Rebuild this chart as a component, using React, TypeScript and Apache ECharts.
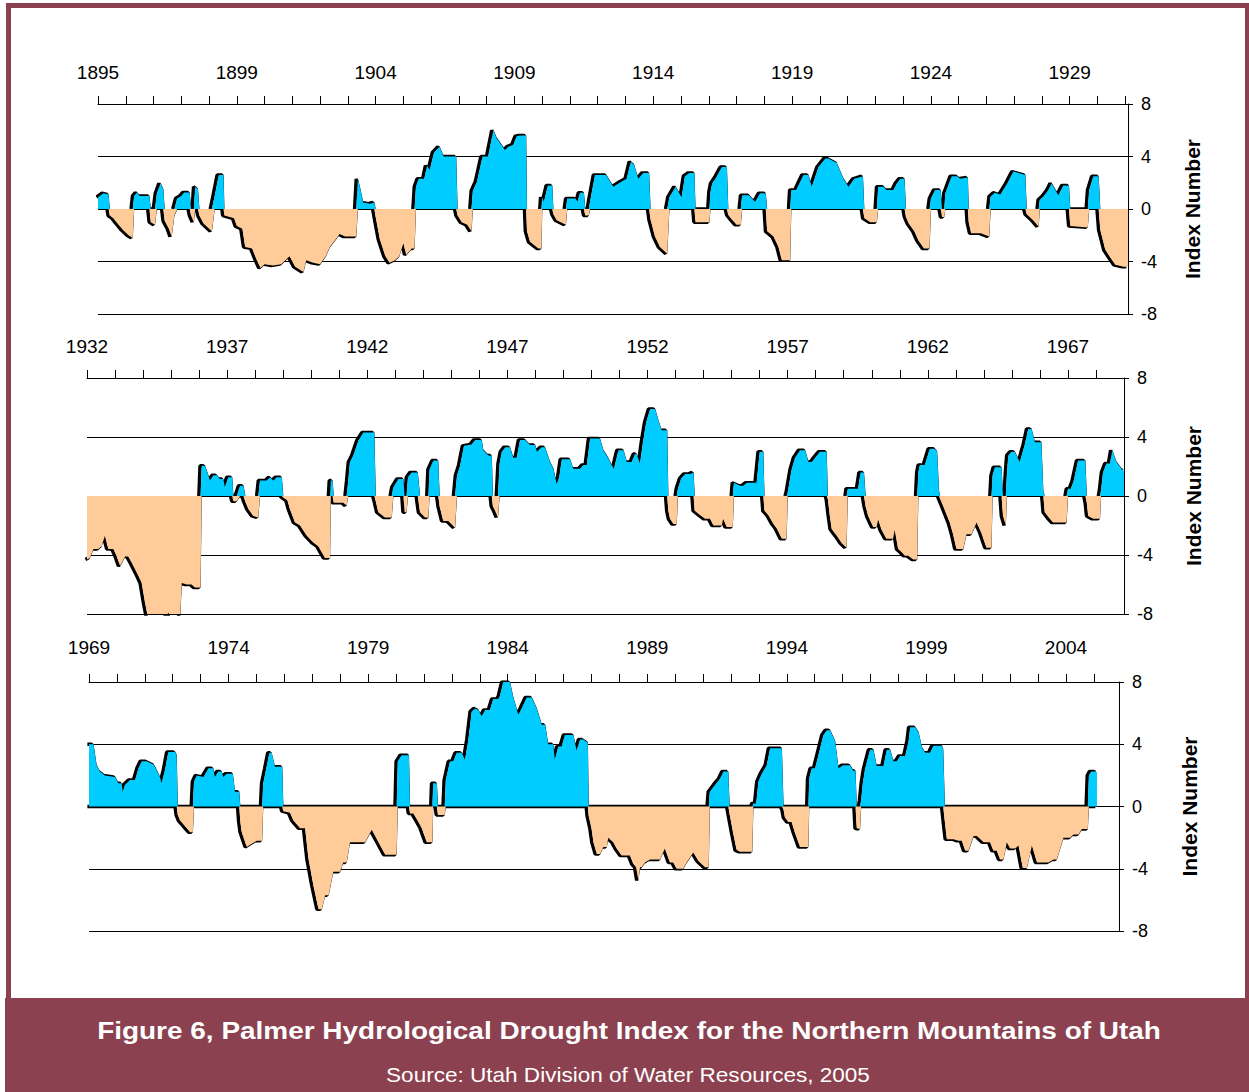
import React, { useEffect, useRef } from "react";
import * as echarts from "echarts";

// Tick labels of each panel's top axis (one label every 5 ticks, 1 tick per year)
const labels1895 = ["1895", "1899", "1904", "1909", "1914", "1919", "1924", "1929"];
const labels1932 = ["1932", "1937", "1942", "1947", "1952", "1957", "1962", "1967"];
const labels1969 = ["1969", "1974", "1979", "1984", "1989", "1994", "1999", "2004"];

// Palmer Hydrological Drought Index: [years after panel start, index]
const phdi1895: [number, number][] = [
  [0, 0.9], [0.2, 1.2], [0.38, 1.1], [0.42, -0.5], [0.55, -0.7], [0.7, -1.1], [0.9, -1.6], [1.1, -2.0], [1.25, -2.2],
  [1.3, 1.0], [1.4, 1.25], [1.5, 1.0], [1.85, 1.0], [1.9, -1.0], [2.05, -1.2], [2.12, 1.2], [2.25, 1.95], [2.35, 1.5],
  [2.4, -0.9], [2.55, -1.5], [2.65, -2.1], [2.75, -0.5], [2.85, 0.8], [3.0, 1.0], [3.1, 1.25], [3.3, 1.25], [3.35, -0.5],
  [3.45, -1.0], [3.5, 1.7], [3.6, 1.5], [3.65, -0.5], [3.8, -1.1], [4.1, -1.7], [4.2, 1.0], [4.35, 2.6], [4.52, 2.6],
  [4.55, -0.5], [4.9, -0.7], [5.0, -1.3], [5.2, -1.5], [5.3, -2.9], [5.55, -3.0], [5.7, -3.8], [5.85, -4.5], [6.0, -4.2],
  [6.3, -4.3], [6.6, -4.2], [6.9, -3.6], [7.1, -4.4], [7.4, -4.8], [7.5, -3.9], [7.75, -4.1], [8.0, -4.2], [8.2, -3.6],
  [8.35, -2.9], [8.6, -2.2], [8.7, -1.9], [8.9, -2.1], [9.3, -2.1], [9.36, 2.3], [9.45, 1.5], [9.55, 0.5], [9.8, 0.4],
  [9.95, 0.5], [10.0, -0.6], [10.15, -2.3], [10.35, -3.6], [10.5, -4.1], [10.7, -3.9], [10.85, -3.6], [11.0, -2.6],
  [11.1, -3.5], [11.3, -3.0], [11.4, -3.0], [11.45, 1.7], [11.55, 2.3], [11.75, 2.3], [11.85, 3.3], [11.95, 3.0],
  [12.1, 4.3], [12.3, 4.75], [12.45, 4.0], [12.9, 4.0], [12.95, -0.5], [13.1, -1.0], [13.3, -1.2], [13.45, -1.7],
  [13.5, 1.4], [13.65, 2.1], [13.85, 4.0], [14.05, 4.0], [14.24, 6.0], [14.36, 5.4], [14.66, 4.5], [14.78, 4.75],
  [14.96, 4.9], [15.08, 5.55], [15.2, 5.6], [15.42, 5.6], [15.45, -1.7], [15.56, -2.5], [15.86, -3.0], [15.97, -3.0],
  [16.0, 0.9], [16.06, 0.55], [16.2, 1.8], [16.36, 1.8], [16.4, -0.4], [16.52, -0.85], [16.85, -1.2], [16.9, 0.8],
  [17.2, 0.8], [17.27, 0.55], [17.36, 1.24], [17.5, 1.24], [17.55, -0.5], [17.68, -0.5], [17.72, 0.55], [17.9, 2.6],
  [18.3, 2.6], [18.56, 1.7], [18.86, 2.1], [19.04, 2.3], [19.19, 3.6], [19.31, 3.35], [19.46, 2.3], [19.64, 2.75],
  [19.85, 2.75], [19.9, -0.8], [20.06, -2.1], [20.24, -2.9], [20.5, -3.4], [20.58, 0.9], [20.8, 1.7], [21.02, 0.9],
  [21.14, 2.5], [21.3, 2.75], [21.48, 2.75], [21.52, -1.0], [22.02, -1.0], [22.06, 1.3], [22.12, 1.95], [22.29, 2.5],
  [22.47, 3.2], [22.65, 3.2], [22.7, -0.45], [22.83, -0.8], [23.0, -1.2], [23.15, -1.2], [23.2, 1.05], [23.45, 1.05],
  [23.55, 0.8], [23.67, 0.55], [23.85, 1.2], [24.05, 1.2], [24.1, -1.7], [24.33, -2.1], [24.51, -2.9], [24.63, -3.9],
  [24.93, -3.9], [24.97, 1.45], [25.15, 1.45], [25.41, 2.6], [25.59, 2.6], [25.71, 1.7], [25.95, 3.2], [26.2, 3.85],
  [26.31, 3.85], [26.61, 3.5], [26.85, 2.3], [27.03, 1.7], [27.24, 2.3], [27.55, 2.5], [27.6, -0.7], [27.82, -1.0],
  [28.05, -1.0], [28.1, 1.7], [28.3, 1.7], [28.4, 1.45], [28.65, 1.45], [28.77, 1.95], [28.9, 2.3], [29.05, 2.3],
  [29.1, -0.6], [29.2, -1.1], [29.4, -1.7], [29.55, -2.4], [29.75, -3.0], [29.95, -3.0], [30.0, 0.8], [30.15, 1.45],
  [30.35, 1.45], [30.4, -0.6], [30.48, -0.6], [30.52, 1.2], [30.75, 2.5], [30.95, 2.5], [31.05, 2.3], [31.33, 2.4],
  [31.36, -1.0], [31.45, -1.85], [31.8, -1.85], [32.1, -2.1], [32.15, 0.95], [32.3, 1.24], [32.5, 1.1], [32.75, 1.95],
  [32.97, 2.85], [33.4, 2.6], [33.45, -0.4], [33.7, -0.9], [33.88, -1.35], [33.92, 0.7], [34.05, 0.95], [34.23, 1.45],
  [34.35, 1.95], [34.59, 1.05], [34.77, 1.8], [34.97, 1.8], [35.02, -1.3], [35.65, -1.4], [35.7, 1.45], [35.85, 2.5],
  [36.04, 2.5], [36.1, -1.6], [36.28, -3.1], [36.46, -3.7], [36.64, -4.25], [36.94, -4.4], [37.1, -4.4],
];

const phdi1932: [number, number][] = [
  [0, -4.3], [0.1, -4.2], [0.23, -3.6], [0.4, -3.6], [0.52, -3.4], [0.64, -2.7], [0.76, -3.6], [0.94, -3.6],
  [1.06, -4.1], [1.18, -4.75], [1.36, -4.1], [1.47, -4.1], [1.59, -4.5], [1.83, -5.4], [1.95, -5.9], [2.07, -7.25],
  [2.19, -8.4], [2.5, -8.6], [2.78, -8.4], [2.9, -7.9], [3.02, -8.4], [3.32, -8.4], [3.38, -5.9], [3.56, -6.0],
  [3.73, -6.0], [3.85, -6.2], [4.05, -6.2], [4.09, 2.05], [4.21, 2.05], [4.39, 1.05], [4.51, 1.4], [4.63, 1.4],
  [4.74, 1.15], [4.86, 1.15], [4.92, 0.6], [5.04, 1.27], [5.18, 1.27], [5.22, -0.35], [5.34, -0.35], [5.46, 0.7],
  [5.58, 0.7], [5.65, -0.4], [5.76, -0.9], [5.93, -1.35], [6.11, -1.45], [6.17, 1.05], [6.41, 1.05], [6.53, 1.27],
  [6.65, 1.05], [6.77, 1.27], [6.95, 1.27], [7.0, -0.1], [7.15, -0.3], [7.24, -0.9], [7.42, -1.8], [7.6, -2.0],
  [7.84, -2.7], [8.07, -3.15], [8.25, -3.4], [8.49, -4.2], [8.67, -4.2], [8.7, 1.05], [8.76, 1.05], [8.8, -0.45],
  [9.14, -0.45], [9.26, -0.65], [9.32, 1.05], [9.38, 2.3], [9.5, 2.75], [9.68, 3.75], [9.86, 4.3], [10.25, 4.3],
  [10.3, -0.35], [10.39, -1.1], [10.63, -1.45], [10.87, -1.45], [10.93, 0.6], [11.11, 1.15], [11.29, 1.15],
  [11.33, -1.1], [11.4, -1.1], [11.45, 1.27], [11.58, 1.6], [11.8, 1.6], [11.88, -1.1], [12.06, -1.45], [12.18, -1.45],
  [12.22, 1.8], [12.36, 2.4], [12.53, 2.4], [12.58, -0.7], [12.71, -1.7], [12.89, -1.7], [13.13, -2.15], [13.2, 1.4],
  [13.31, 2.05], [13.45, 3.4], [13.72, 3.5], [13.85, 3.8], [14.08, 3.8], [14.14, 3.1], [14.32, 2.75], [14.44, 2.75],
  [14.48, -0.7], [14.56, -1.0], [14.66, -1.45], [14.72, 2.2], [14.8, 3.0], [14.92, 3.3], [15.09, 3.3], [15.21, 2.6],
  [15.33, 2.6], [15.45, 3.8], [15.63, 3.8], [15.81, 3.45], [15.99, 3.45], [16.05, 3.0], [16.22, 3.3], [16.34, 3.3],
  [16.52, 2.3], [16.64, 1.85], [16.76, 0.8], [16.85, 1.3], [16.94, 2.5], [17.23, 2.5], [17.35, 1.85], [17.59, 1.85],
  [17.71, 2.1], [17.83, 2.1], [17.95, 3.9], [18.3, 3.9], [18.42, 3.1], [18.54, 2.75], [18.72, 2.1], [18.8, 1.85],
  [18.96, 3.1], [19.14, 3.1], [19.26, 2.3], [19.43, 2.3], [19.55, 2.85], [19.61, 2.85], [19.73, 2.2], [19.83, 3.6],
  [19.95, 5.0], [20.09, 5.9], [20.27, 5.9], [20.39, 5.1], [20.5, 4.45], [20.7, 4.45], [20.74, -1.0], [20.8, -1.55],
  [20.92, -1.9], [21.04, -1.9], [21.08, 0.5], [21.2, 1.2], [21.34, 1.5], [21.52, 1.5], [21.64, 1.6], [21.68, -1.0],
  [21.81, -1.2], [22.05, -1.55], [22.23, -1.55], [22.35, -2.0], [22.65, -2.0], [22.7, -1.55], [22.82, -2.1],
  [23.04, -2.1], [23.08, 0.9], [23.3, 0.7], [23.42, 0.7], [23.54, 0.9], [23.89, 0.9], [24.0, 3.0], [24.13, 3.0],
  [24.17, -1.0], [24.31, -1.3], [24.49, -1.9], [24.61, -2.2], [24.79, -2.9], [24.96, -2.9], [25.0, 0.25], [25.14, 1.8],
  [25.26, 2.6], [25.44, 3.1], [25.62, 3.1], [25.74, 2.3], [25.86, 2.3], [25.98, 2.6], [26.15, 3.0], [26.39, 3.0],
  [26.43, -0.2], [26.5, -1.3], [26.57, -2.25], [26.75, -2.7], [26.93, -3.2], [27.1, -3.5], [27.14, 0.5], [27.51, 0.5],
  [27.6, 1.6], [27.72, 1.6], [27.78, -0.7], [27.87, -1.35], [28.05, -2.1], [28.17, -2.1], [28.23, -1.6], [28.35, -2.3],
  [28.52, -2.9], [28.76, -2.9], [28.82, -2.3], [28.94, -3.6], [29.06, -3.8], [29.18, -4.05], [29.3, -4.05],
  [29.48, -4.3], [29.62, -4.3], [29.66, 1.6], [29.71, 2.1], [29.89, 2.1], [30.07, 3.2], [30.25, 3.2], [30.33, 3.0],
  [30.4, 0.3], [30.44, -0.2], [30.55, -0.7], [30.78, -1.8], [30.9, -2.6], [31.02, -3.6], [31.26, -3.6], [31.38, -2.6],
  [31.56, -2.6], [31.74, -1.8], [31.91, -2.5], [32.09, -3.5], [32.27, -3.5], [32.31, 1.4], [32.39, 1.95],
  [32.63, 1.95], [32.68, -1.35], [32.78, -2.0], [32.82, 1.5], [32.87, 2.75], [32.98, 3.0], [33.1, 3.0], [33.28, 2.3],
  [33.46, 3.5], [33.58, 4.55], [33.7, 4.55], [33.82, 3.65], [34.05, 3.65], [34.12, 0.3], [34.17, -1.1], [34.35, -1.55],
  [34.47, -1.8], [34.95, -1.8], [35.0, 0.5], [35.1, 0.5], [35.2, 1.0], [35.36, 2.4], [35.62, 2.4], [35.67, -0.45],
  [35.72, -1.35], [35.9, -1.55], [36.14, -1.55], [36.18, 0.4], [36.25, 1.6], [36.37, 2.2], [36.5, 2.2], [36.58, 3.1],
  [36.73, 2.3], [36.91, 1.85], [37.0, 1.7],
];

const phdi1969: [number, number][] = [
  [0, 4.0], [0.16, 4.0], [0.27, 2.65], [0.39, 2.25], [0.57, 2.0], [0.93, 1.9], [1.05, 1.5], [1.17, 1.5], [1.21, 0.95],
  [1.29, 1.4], [1.47, 1.7], [1.65, 1.7], [1.77, 2.45], [1.89, 2.9], [2.07, 2.9], [2.31, 2.7], [2.42, 2.35], [2.54, 1.9],
  [2.6, 1.5], [2.72, 2.35], [2.84, 3.5], [3.08, 3.5], [3.14, 3.3], [3.18, -0.55], [3.26, -0.9], [3.5, -1.4],
  [3.62, -1.65], [3.72, -1.65], [3.76, 1.6], [3.86, 2.0], [4.1, 1.9], [4.28, 2.45], [4.45, 2.45], [4.51, 1.9],
  [4.63, 2.25], [4.75, 2.25], [4.81, 1.9], [4.93, 2.1], [5.15, 2.1], [5.23, 0.95], [5.38, 0.95], [5.42, -1.0],
  [5.47, -1.65], [5.65, -2.6], [5.83, -2.4], [6.01, -2.2], [6.2, -2.2], [6.24, 1.5], [6.35, 2.45], [6.46, 3.45],
  [6.54, 3.45], [6.66, 2.55], [6.92, 2.55], [6.96, -0.3], [7.2, -0.4], [7.32, -0.9], [7.56, -1.4], [7.74, -1.4],
  [7.86, -3.35], [8.04, -5.1], [8.22, -6.6], [8.34, -6.6], [8.46, -5.7], [8.58, -5.7], [8.63, -5.3], [8.75, -4.2],
  [8.99, -4.2], [9.11, -3.6], [9.23, -3.6], [9.35, -2.3], [9.89, -2.3], [10.13, -1.5], [10.37, -2.3], [10.61, -3.1],
  [11.02, -3.1], [11.06, 2.9], [11.2, 3.3], [11.46, 3.3], [11.5, -0.45], [11.62, -0.45], [11.8, -1.0], [11.92, -1.4],
  [12.1, -2.3], [12.3, -2.3], [12.33, 1.5], [12.46, 1.5], [12.5, -0.55], [12.74, -0.55], [12.78, 1.7], [12.93, 2.9],
  [13.05, 2.9], [13.17, 3.45], [13.35, 3.45], [13.47, 3.0], [13.59, 4.3], [13.71, 6.1], [13.83, 6.3], [13.95, 6.2],
  [14.07, 5.8], [14.19, 6.2], [14.36, 6.2], [14.48, 6.9], [14.66, 6.9], [14.72, 7.1], [14.84, 8.0], [15.08, 8.0],
  [15.2, 7.0], [15.38, 5.9], [15.5, 6.3], [15.68, 7.0], [15.86, 7.0], [16.04, 6.3], [16.22, 5.25], [16.34, 5.25],
  [16.45, 4.0], [16.63, 4.0], [16.69, 3.0], [16.81, 3.85], [16.93, 3.85], [17.05, 4.6], [17.35, 4.6], [17.47, 3.6],
  [17.59, 4.3], [17.71, 4.3], [17.87, 4.1], [17.9, -0.6], [18.0, -1.4], [18.07, -2.3], [18.19, -3.05], [18.31, -3.05],
  [18.43, -2.6], [18.55, -2.6], [18.6, -2.0], [18.78, -2.3], [18.9, -2.7], [19.08, -3.15], [19.38, -3.15], [19.5, -3.7],
  [19.6, -3.9], [19.68, -4.75], [19.74, -3.9], [19.8, -3.9], [19.92, -3.6], [20.1, -3.4], [20.46, -3.4], [20.63, -2.7],
  [20.81, -3.6], [20.93, -3.6], [21.05, -4.0], [21.29, -4.0], [21.41, -3.6], [21.65, -2.95], [21.83, -3.5],
  [22.07, -3.9], [22.2, -3.9], [22.24, 0.95], [22.43, 1.4], [22.61, 1.8], [22.73, 2.25], [22.9, 2.25], [22.95, -0.5],
  [23.08, -1.75], [23.2, -2.8], [23.32, -2.9], [23.76, -2.9], [23.8, 0.2], [23.9, 0.2], [23.98, 1.6], [24.1, 2.1],
  [24.28, 2.65], [24.4, 3.75], [24.82, 3.75], [24.88, -0.2], [24.93, -0.7], [25.05, -1.0], [25.17, -1.0], [25.29, -1.7],
  [25.47, -2.6], [25.77, -2.6], [25.8, 1.8], [25.89, 2.45], [26.01, 2.45], [26.13, 3.3], [26.31, 4.6], [26.43, 4.9],
  [26.55, 4.9], [26.73, 4.2], [26.85, 2.45], [27.02, 2.65], [27.26, 2.65], [27.38, 2.3], [27.46, 2.3], [27.5, -1.4],
  [27.62, -1.45], [27.66, 0.4], [27.72, 1.5], [27.8, 2.4], [27.87, 2.9], [27.98, 3.65], [28.1, 3.65], [28.22, 2.6],
  [28.46, 2.6], [28.58, 3.65], [28.7, 3.65], [28.82, 2.9], [28.94, 2.9], [29.06, 3.25], [29.24, 3.25], [29.36, 4.2],
  [29.42, 5.1], [29.6, 5.1], [29.72, 4.75], [29.84, 3.8], [29.96, 3.45], [30.13, 3.45], [30.25, 3.9], [30.55, 3.9],
  [30.6, 3.7], [30.66, -1.0], [30.73, -2.1], [30.97, -2.1], [31.15, -2.2], [31.27, -2.2], [31.39, -2.85],
  [31.51, -2.85], [31.69, -1.9], [31.81, -1.9], [32.05, -2.3], [32.28, -2.3], [32.4, -2.85], [32.52, -2.85],
  [32.64, -3.4], [32.76, -3.4], [32.88, -2.3], [33.0, -2.7], [33.18, -2.7], [33.3, -2.5], [33.45, -3.95], [33.6, -3.95],
  [33.78, -2.5], [33.96, -3.6], [34.37, -3.6], [34.55, -3.4], [34.67, -3.4], [34.91, -2.0], [35.15, -2.0],
  [35.27, -1.8], [35.45, -1.8], [35.57, -1.45], [35.78, -1.45], [35.82, 2.0], [35.9, 2.25], [36.05, 2.25], [36.11, 2.2],
];

const FONT = "'Liberation Sans', Arial, Helvetica, sans-serif";
const WET = "#00CCFF";
const DRY = "#FFCC99";
const MAROON = "#8B414F";

type Panel = {
  data: [number, number][];
  labels: string[];
  span: number;
  grid: { left: number; top: number; width: number; height: number };
  labelMargin: number;
  nameGap: number;
  zeroShadow: boolean;
};

const panels: Panel[] = [
  { data: phdi1895, labels: labels1895, span: 37.1, grid: { left: 98, top: 104, width: 1030, height: 210 }, labelMargin: 22, nameGap: 54, zeroShadow: false },
  { data: phdi1932, labels: labels1932, span: 37.0, grid: { left: 87, top: 378, width: 1037, height: 236 }, labelMargin: 22, nameGap: 59, zeroShadow: false },
  { data: phdi1969, labels: labels1969, span: 36.9, grid: { left: 89, top: 682, width: 1030, height: 249 }, labelMargin: 25, nameGap: 60, zeroShadow: true },
];

function shadowData(pts: [number, number][], keepZero: boolean): any[] {
  if (keepZero) return pts;
  return pts.map((p, i) => {
    const prev = i > 0 ? pts[i - 1][1] : 0;
    const next = i < pts.length - 1 ? pts[i + 1][1] : 0;
    if (p[1] === 0 && prev === 0 && next === 0) return [p[0], "-"];
    return p;
  });
}

export default function App() {
  const ref = useRef<HTMLDivElement>(null);
  useEffect(() => {
    document.body.style.margin = "0";
    if (!ref.current) return;
    const chart = echarts.init(ref.current, undefined, { renderer: "svg" });

    const grid: any[] = [];
    const xAxis: any[] = [];
    const yAxis: any[] = [];
    const series: any[] = [];

    panels.forEach((p, i) => {
      grid.push({ ...p.grid });
      const pxPerYear = p.grid.width / p.span;
      const shift = 1.6 / pxPerYear;
      xAxis.push({
        gridIndex: i,
        type: "value",
        position: "top",
        min: 0,
        max: p.span,
        interval: 1,
        axisLine: { show: true, onZero: false, lineStyle: { color: "#000", width: 1 } },
        axisTick: { show: true, inside: false, length: 8, lineStyle: { color: "#000", width: 1 } },
        axisLabel: {
          show: true,
          margin: p.labelMargin,
          fontSize: 19,
          fontFamily: FONT,
          color: "#000",
          showMinLabel: true,
          showMaxLabel: false,
          formatter: (v: number) => {
            const k = Math.round(v);
            if (Math.abs(v - k) > 1e-6 || k % 5 !== 0) return "";
            return p.labels[k / 5] ?? "";
          },
        },
        splitLine: { show: false },
      });
      xAxis.push({
        gridIndex: i,
        type: "value",
        show: false,
        min: shift,
        max: p.span + shift,
        splitLine: { show: false },
      });
      yAxis.push({
        gridIndex: i,
        type: "value",
        position: "right",
        min: -8,
        max: 8,
        interval: 4,
        axisLine: { show: true, onZero: false, lineStyle: { color: "#000", width: 1 } },
        axisTick: { show: true, inside: false, length: 5, lineStyle: { color: "#000" } },
        axisLabel: { margin: 13, fontSize: 18, fontFamily: FONT, color: "#000" },
        splitLine: { show: true, lineStyle: { color: "#000", width: 1 } },
        name: "Index Number",
        nameLocation: "middle",
        nameRotate: 90,
        nameGap: p.nameGap,
        nameTextStyle: { fontWeight: "bold", fontSize: 21, fontFamily: FONT, color: "#000" },
      });

      const wet = p.data.map(([t, v]) => [t, Math.max(v, 0)] as [number, number]);
      const dry = p.data.map(([t, v]) => [t, Math.min(v, 0)] as [number, number]);

      const lineBase = {
        type: "line",
        symbol: "none",
        showSymbol: false,
        silent: true,
        clip: true,
        yAxisIndex: i,
      };
      series.push({
        ...lineBase,
        xAxisIndex: 2 * i + 1,
        data: shadowData(wet, p.zeroShadow),
        lineStyle: { color: "#000", width: 3.5 },
        z: 2,
      });
      series.push({
        ...lineBase,
        xAxisIndex: 2 * i + 1,
        data: shadowData(dry, p.zeroShadow),
        lineStyle: { color: "#000", width: 3.5 },
        z: 2,
      });
      series.push({
        ...lineBase,
        xAxisIndex: 2 * i,
        data: wet,
        lineStyle: { width: 0, opacity: 0 },
        areaStyle: { color: WET, opacity: 1 },
        z: 3,
      });
      series.push({
        ...lineBase,
        xAxisIndex: 2 * i,
        data: dry,
        lineStyle: { width: 0, opacity: 0 },
        areaStyle: { color: DRY, opacity: 1 },
        z: 3,
      });
    });

    chart.setOption({
      animation: false,
      backgroundColor: "#fff",
      grid,
      xAxis,
      yAxis,
      series,
      graphic: [
        { type: "rect", shape: { x: 6, y: 3, width: 5, height: 1089 }, style: { fill: MAROON }, silent: true },
        { type: "rect", shape: { x: 6, y: 3, width: 1243, height: 5 }, style: { fill: MAROON }, silent: true },
        { type: "rect", shape: { x: 1245, y: 3, width: 4, height: 1089 }, style: { fill: MAROON }, silent: true },
        { type: "rect", shape: { x: 5, y: 998, width: 1244, height: 94 }, style: { fill: MAROON }, silent: true },
        {
          type: "text",
          x: 629,
          y: 1031,
          scaleX: 1.165,
          silent: true,
          style: {
            text: "Figure 6, Palmer Hydrological Drought Index for the Northern Mountains of Utah",
            fill: "#fff",
            fontSize: 24,
            fontWeight: "bold",
            fontFamily: FONT,
            align: "center",
            verticalAlign: "middle",
          },
        },
        {
          type: "text",
          x: 628,
          y: 1075,
          scaleX: 1.1,
          silent: true,
          style: {
            text: "Source: Utah Division of Water Resources, 2005",
            fill: "#fff",
            fontSize: 20.5,
            fontFamily: FONT,
            align: "center",
            verticalAlign: "middle",
          },
        },
      ],
    });
    return () => chart.dispose();
  }, []);
  return <div ref={ref} style={{ width: 1249, height: 1092 }} />;
}
